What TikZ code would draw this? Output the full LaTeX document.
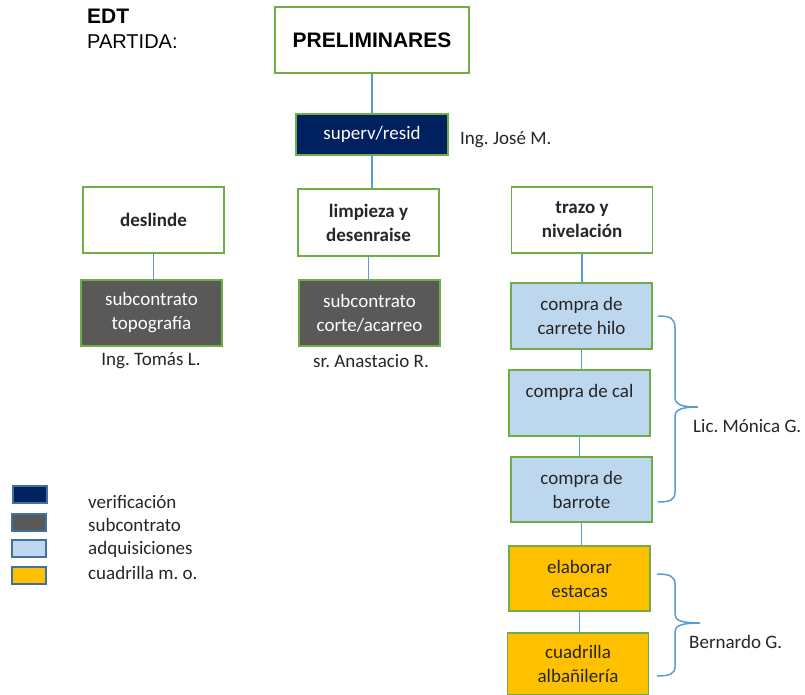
\documentclass[tikz,border=0pt]{standalone}
\usepackage{fontspec}
\setmainfont{Carlito}
\newfontfamily\arialfont{Liberation Sans}
\usepackage{xcolor}
\usetikzlibrary{positioning,calc}
\frenchspacing

\definecolor{boxgreen}{HTML}{70AD47}
\definecolor{linkblue}{HTML}{5B9BD5}
\definecolor{navyfill}{HTML}{002060}
\definecolor{subgray}{HTML}{595959}
\definecolor{adqblue}{HTML}{BDD7EE}
\definecolor{mogold}{HTML}{FFC000}
\definecolor{keyedge}{HTML}{41719C}
\definecolor{txt}{HTML}{262626}

\tikzset{
  task/.style={draw=boxgreen, line width=1.3pt, minimum width=141pt, minimum height=66pt,
    inner sep=0pt, align=center, font=\fontsize{19}{24}\selectfont, text=txt},
  title/.style={task, fill=white, font=\bfseries\fontsize{19}{24}\selectfont},
  verif/.style={task, fill=navyfill, text=white},
  subc/.style={task, fill=subgray, text=white},
  adq/.style={task, fill=adqblue},
  mo/.style={task, fill=mogold},
  link/.style={draw=linkblue, line width=1.5pt},
  key/.style={draw=keyedge, line width=1.5pt, minimum width=34pt, minimum height=17pt, inner sep=0pt},
  person/.style={font=\fontsize{19}{24}\selectfont, text=txt, inner sep=0pt},
}

\begin{document}
\begin{tikzpicture}[x=1pt,y=-1pt]
    \useasboundingbox (0,0) rectangle (805,694);

    \node[anchor=base west, inner sep=0pt, font=\arialfont\bfseries\fontsize{21}{24}\selectfont] (edt) at (87,23) {EDT};
    \node[anchor=base west, inner sep=0pt, font=\arialfont\fontsize{20}{24}\selectfont] (partida) at (87,48) {PARTIDA:};

    \node[title, minimum width=194pt, font=\arialfont\bfseries\fontsize{21}{24}\selectfont, text=black] (prelim) at (372,40) {PRELIMINARES};
    \node[verif, minimum width=152pt, minimum height=41pt] (superv) at (372,134.5) {superv/resid};
    \node[person, anchor=west] (jose) at (460,140) {Ing. José M.};

    \node[title] (deslinde) at (153.5,220) {deslinde};
    \node[title, minimum height=67pt] (limpieza) at (368.5,222.5) {limpieza y\\desenraise};
    \node[title] (trazo) at (582,220) {trazo y\\nivelación};

    \node[subc] (subtopo) at (151.5,313) {subcontrato\\topografía};
    \node[subc] (subcorte) at (369.5,313) {subcontrato\\corte/acarreo};
    \node[person] (tomas) at (151,361) {Ing. Tomás L.};
    \node[person] (anastacio) at (371,361) {sr. Anastacio R.};

    \node[adq] (carrete) at (581.5,316) {compra de\\carrete hilo};
    \node[adq] (cal) at (579.5,403) {compra de cal\\\mbox{}};
    \node[adq, minimum height=65pt] (barrote) at (581.5,489.5) {compra de\\barrote};
    \node[mo, minimum height=65pt] (estacas) at (579.5,578.5) {elaborar\\estacas};
    \node[mo, minimum height=62pt] (albanil) at (578,664) {cuadrilla\\albañilería};

    \draw[link] (prelim.south) -- (prelim.south |- superv.north);
    \draw[link] (superv.south) -- (superv.south |- limpieza.north);
    \draw[link] (deslinde.south) -- (deslinde.south |- subtopo.north);
    \draw[link] (limpieza.south) -- (limpieza.south |- subcorte.north);
    \draw[link] (trazo.south) -- (trazo.south |- carrete.north);
    \draw[link] (carrete.south) -- (carrete.south |- cal.north);
    \draw[link] (cal.south) -- (cal.south |- barrote.north);
    \draw[link] (barrote.south) -- (barrote.south |- estacas.north);
    \draw[link] (estacas.south) -- (estacas.south |- albanil.north);

    \draw[link] (658,316) .. controls (670,316) and (675,318) .. (675,328) -- (675,397)
        .. controls (675,404) and (680,407) .. (698,407)
        .. controls (680,407) and (675,410) .. (675,417) -- (675,492)
        .. controls (675,500) and (670,502) .. (658,502);
    \node[person, anchor=west] (monica) at (693,426) {Lic. Mónica G.};

    \draw[link] (657,574) .. controls (669,574) and (675,576) .. (675,584) -- (675,614)
        .. controls (675,620) and (680,623) .. (700,623)
        .. controls (680,623) and (675,626) .. (675,632) -- (675,667)
        .. controls (675,674) and (669,676) .. (657,676);
    \node[person, anchor=west] (bernardo) at (689,642) {Bernardo G.};

    \node[key, fill=navyfill] (kverif) at (30,494.5) {};
    \node[key, fill=subgray] (ksubc) at (29,522.5) {};
    \node[key, fill=adqblue] (kadq) at (29,548.5) {};
    \node[key, fill=mogold] (kmo) at (29,575.5) {};

    \node[person, anchor=west] (tverif) at (88,502) {verificación};
    \node[person, anchor=west] (tsubc) at (88,525) {subcontrato};
    \node[person, anchor=west] (tadq) at (88,549) {adquisiciones};
    \node[person, anchor=west] (tmo) at (88,573) {cuadrilla m. o.};
\end{tikzpicture}
\end{document}
